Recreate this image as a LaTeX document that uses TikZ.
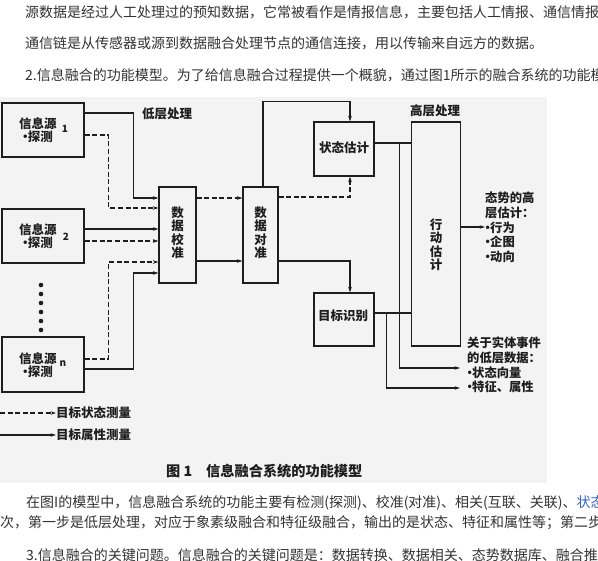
\documentclass[tikz,border=0pt]{standalone}
\usepackage{fontspec}
\newfontfamily\cjk{Noto Sans CJK SC}
\usetikzlibrary{arrows.meta}
\definecolor{txt}{HTML}{333333}
\definecolor{ink}{HTML}{1E1E1E}
\definecolor{lnk}{HTML}{3366CC}
\definecolor{figbg}{HTML}{F3F3F3}
\newcommand\idot{\makebox[5pt][c]{·}}
\begin{document}
\begin{tikzpicture}[x=1pt,y=-1pt,
  para/.style={anchor=west,inner sep=0pt,text=txt,font=\cjk\fontsize{14}{16}\selectfont},
  lbl/.style={inner sep=0pt,text=ink,font=\cjk\bfseries\fontsize{12.5}{13.5}\selectfont},
  vlbl/.style={lbl,align=center},
  blk/.style={lbl,align=left,anchor=west,font=\cjk\bfseries\fontsize{12.3}{14.7}\selectfont},
  numl/.style={inner sep=0pt,text=ink,font=\cjk\bfseries\fontsize{10}{11}\selectfont},
  box/.style={draw=ink,line width=1.1pt,inner sep=0pt},
  ln/.style={draw=ink,line width=1.1pt},
  dsh/.style={ln,dash pattern=on 5pt off 2.6pt},
  arr/.style={-{Stealth[length=5.5pt,width=3.6pt]}}
]
\useasboundingbox (0,0) rectangle (598,561);
\begin{scope}
\clip (0,0) rectangle (598,561);
\fill[white] (0,0) rectangle (598,561);
\fill[figbg] (0,97) rectangle (547,483);

% paragraph text
\node[para] (t1) at (25,12) {源数据是经过人工处理过的预知数据，它常被看作是情报信息，主要包括人工情报、通信情报};
\node[para] (t2) at (25,43) {通信链是从传感器或源到数据融合处理节点的通信连接，用以传输来自远方的数据。};
\node[para] (t3) at (25,75) {2.信息融合的功能模型。为了给信息融合过程提供一个概貌，通过图1所示的融合系统的功能模};
\node[para] (b1) at (26,503) {在图I的模型中，信息融合系统的功能主要有检测(探测)、校准(对准)、相关(互联、关联)、\textcolor{lnk}{状态}};
\node[para] (b2) at (0,523) {次，第一步是低层处理，对应于象素级融合和特征级融合，输出的是状态、特征和属性等；第二步};
\node[para] (b3) at (26,555) {3.信息融合的关键问题。信息融合的关键问题是：数据转换、数据相关、态势数据库、融合推};

% source boxes
\node[box,minimum width=82pt,minimum height=54pt] (s1) at (43,130) {};
\node[vlbl] (s1t) at (38,130) {信息源\\\idot 探测};
\node[numl] (s1n) at (65,129) {1};
\node[box,minimum width=82pt,minimum height=54pt] (s2) at (43,236) {};
\node[vlbl] (s2t) at (38,236) {信息源\\\idot 探测};
\node[numl] (s2n) at (66,237) {2};
\node[box,minimum width=82pt,minimum height=55pt] (sn) at (43,364.5) {};
\node[vlbl] (snt) at (38,365) {信息源\\\idot 探测};
\node[numl] (snn) at (63,364) {n};
\foreach \yy in {285,294,303,312,321,330} \fill[ink] (41,\yy) circle (2.3pt);

% processing boxes
\node[box,minimum width=37pt,minimum height=96pt] (cal) at (177.5,235) {};
\node[vlbl] (calt) at (177.5,233) {数\\据\\校\\准};
\node[box,minimum width=35pt,minimum height=96pt] (ali) at (260.5,235) {};
\node[vlbl] (alit) at (260.5,233) {数\\据\\对\\准};
\node[box,minimum width=60pt,minimum height=54pt] (est) at (344,149) {};
\node[lbl] (estt) at (344,148) {状态估计};
\node[box,minimum width=60pt,minimum height=53pt] (rec) at (344,319.5) {};
\node[lbl] (rect) at (343,316) {目标识别};
\node[box,minimum width=49pt,minimum height=224pt] (act) at (436,234) {};
\node[vlbl] (actt) at (436,245) {行\\动\\估\\计};

\node[lbl] (low) at (167,114) {低层处理};
\node[lbl] (high) at (435,111) {高层处理};

% inputs to 数据校准
\draw[ln,arr] ([yshift=17pt]s1.east) -- ++(49,0) |- ([yshift=37pt]cal.west);
\draw[dsh,arr] ([yshift=-5pt]s1.east) -- ++(24,0) |- ([yshift=27pt]cal.west);
\draw[ln,arr] ([yshift=7pt]s2.east) -- ([yshift=7pt]s2.east -| cal.west);
\draw[dsh,arr] ([yshift=-5pt]s2.east) -- ([yshift=-5pt]s2.east -| cal.west);
\draw[dsh,arr] ([yshift=5.5pt]sn.east) -- ++(24,0) |- ([yshift=-27pt]cal.west);
\draw[ln,arr] ([yshift=-4.5pt]sn.east) -- ++(49,0) |- ([yshift=-38pt]cal.west);

% 校准 -> 对准
\draw[dsh,arr] ([yshift=37pt]cal.east) -- ([yshift=37pt]cal.east -| ali.west);
\draw[ln,arr] ([yshift=-26pt]cal.east) -- ([yshift=-26pt]cal.east -| ali.west);

% 对准 -> 估计 / 识别
\draw[ln,arr] ([xshift=2.5pt]ali.north) -- ++(0,-85) -| ([xshift=6pt]est.north);
\draw[dsh,arr] ([yshift=38pt]ali.east) -| ([xshift=6pt]est.south);
\draw[ln,arr] ([yshift=-26pt]ali.east) -| ([xshift=6pt]rec.north);

% to 行动估计
\draw[ln] ([yshift=6pt]est.east) -- ([yshift=6pt]est.east -| act.west);
\draw[ln] ([yshift=6.5pt]rec.east) -- ([yshift=6.5pt]rec.east -| act.west);
\path ([yshift=6pt]est.east) ++(25,0) coordinate (j1);
\path ([yshift=6.5pt]rec.east) ++(12,0) coordinate (j2);
\coordinate (o1) at (460,368);
\coordinate (o2) at (460,388);
\draw[ln,arr] (j1) |- (o1);
\draw[ln,arr] (j2) |- (o2);

% outputs text
\node[blk] (hi) at (485,227.5) {态势的高\\层估计：\\\idot 行为\\\idot 企图\\\idot 动向};
\draw[ln,arr] ([yshift=7pt]act.east) -- ([yshift=7pt]act.east -| hi.west);
\node[blk] (lo) at (467,365) {关于实体事件\\的低层数据：\\\idot 状态向量\\\idot 特征、属性};

% legend
\coordinate (l1a) at (0,413);
\coordinate (l2a) at (0,435);
\node[lbl,anchor=west] (l1t) at (56,413) {目标状态测量};
\node[lbl,anchor=west] (l2t) at (56,435) {目标属性测量};
\draw[dsh,arr] (l1a) -- (l1t.west);
\draw[ln,arr] (l2a) -- (l2t.west);

% caption
\node[lbl,anchor=west,font=\cjk\bfseries\fontsize{14.2}{15}\selectfont] (cap1) at (166,471) {图 1};
\node[lbl,anchor=west,font=\cjk\bfseries\fontsize{14.2}{15}\selectfont] (cap2) at (206,471) {信息融合系统的功能模型};
\end{scope}
\end{tikzpicture}
\end{document}
